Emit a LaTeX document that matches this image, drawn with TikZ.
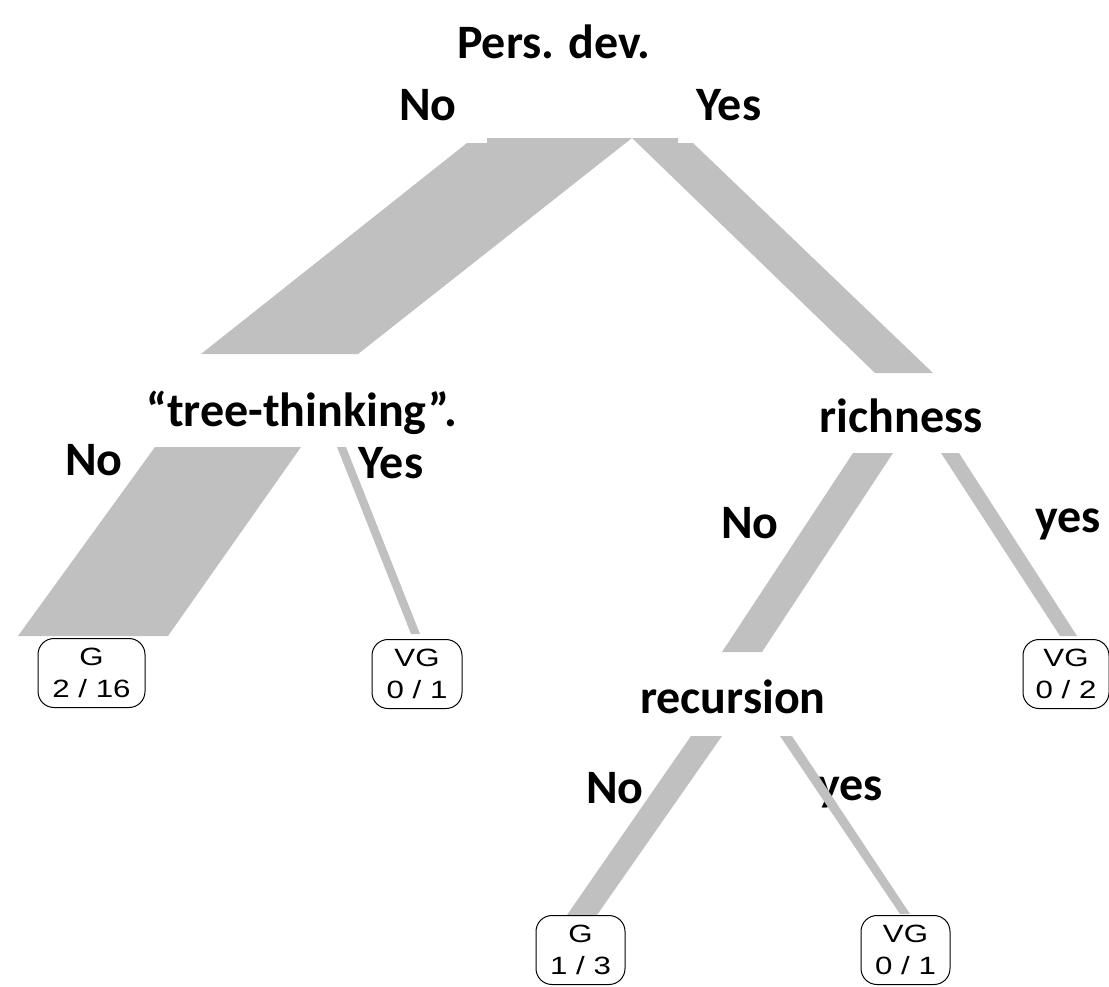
\documentclass[tikz,border=0pt]{standalone}
\usepackage{fontspec}
\setmainfont{Carlito}
\newfontfamily\leaffamily{Liberation Sans}
\usepackage{graphicx}
\definecolor{band}{HTML}{C0C0C0}
\tikzset{
  lbl/.style={anchor=base, inner sep=0pt, font=\fontsize{48}{54}\selectfont\bfseries},
  bandfill/.style={fill=band, draw=none},
  leaf/.style={draw=black, line width=1pt, rounded corners=16pt, inner sep=0pt,
    minimum height=69pt, align=center,
    font=\leaffamily\fontsize{25}{32}\selectfont}
}
\newcommand{\sx}[1]{\scalebox{1.25}[1]{#1}}
\begin{document}
\begin{tikzpicture}[x=1pt,y=-1pt]
\useasboundingbox (0,0) rectangle (1109,986);
% labels
\node[lbl] (root) at (554,58) {Pers. dev.};
\node[lbl] (rno) at (428,120) {No};
\node[lbl] (ryes) at (729,120) {Yes};
\node[lbl] (tree) at (302,426) {“tree-thinking”.};
\node[lbl] (rich) at (901,432) {richness};
\node[lbl] (tno) at (94,475) {No};
\node[lbl] (tyes) at (391,478) {Yes};
\node[lbl] (cno) at (750,538) {No};
\node[lbl] (cyes) at (1068,532) {yes};
\node[lbl] (rec) at (733,713) {recursion};
\node[lbl] (sno) at (615,803) {No};
\node[lbl] (syes) at (850,800) {yes};
% bands
\fill[bandfill] (467,143) -- (487,143) -- (487,138) -- (632,138) -- (358,354) -- (201,354) -- cycle;
\fill[bandfill] (632,138) -- (678,138) -- (678,143) -- (693,143) -- (933,373) -- (875,373) -- cycle;
\fill[bandfill] (155,447) -- (301,447) -- (168,636) -- (18,636) -- cycle;
\fill[bandfill] (337,447) -- (346,447) -- (420,634) -- (411,634) -- cycle;
\fill[bandfill] (853,453) -- (893,453) -- (762,652) -- (722,652) -- cycle;
\fill[bandfill] (941,453) -- (959,453) -- (1077,636) -- (1060,636) -- cycle;
\fill[bandfill] (691,736) -- (722,736) -- (597,915) -- (567,915) -- cycle;
\fill[bandfill] (780,736) -- (792,736) -- (910,914) -- (900,914) -- cycle;
% leaves
\node[leaf, minimum width=107pt] (l1) at (91.5,673) {\sx{G}\\\sx{2 / 16}};
\node[leaf, minimum width=90pt] (l2) at (417,674) {\sx{VG}\\\sx{0 / 1}};
\node[leaf, minimum width=86pt] (l3) at (1066,674) {\sx{VG}\\\sx{0 / 2}};
\node[leaf, minimum width=89pt] (l4) at (580.5,950) {\sx{G}\\\sx{1 / 3}};
\node[leaf, minimum width=89pt] (l5) at (905.5,950) {\sx{VG}\\\sx{0 / 1}};
\end{tikzpicture}
\end{document}
